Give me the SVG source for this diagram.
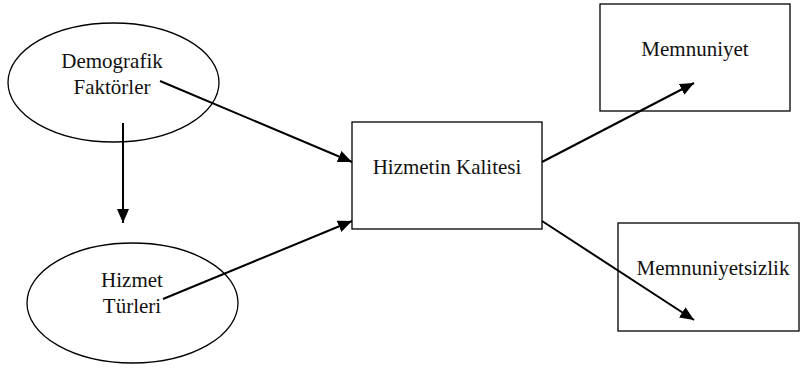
<svg xmlns="http://www.w3.org/2000/svg" width="800" height="369" viewBox="0 0 800 369">
<defs>
<style>
.n{fill:#fff;stroke:#000;stroke-width:1.3}
.t{font-family:"Liberation Serif","Times New Roman",serif;font-size:21px;fill:#111;text-anchor:middle}
.c{stroke:#000;stroke-width:2;fill:none;marker-end:url(#ah)}
</style>
<marker id="ah" markerUnits="userSpaceOnUse" markerWidth="14" markerHeight="12" viewBox="0 0 14 12" refX="14" refY="6" orient="auto">
<path d="M0,0 L14,6 L0,12 Z" fill="#000"/>
</marker>
</defs>
<rect width="800" height="369" fill="#fff"/>
<g id="demografik">
<ellipse class="n" cx="113.5" cy="82.5" rx="105.5" ry="59.5"/>
<text class="t" x="112" y="68">Demografik</text>
<text class="t" x="112" y="94">Faktörler</text>
</g>
<g id="hizmet-turleri">
<ellipse class="n" cx="132.5" cy="303" rx="105.5" ry="60"/>
<text class="t" x="132" y="287">Hizmet</text>
<text class="t" x="132" y="313">Türleri</text>
</g>
<g id="hizmetin-kalitesi">
<rect class="n" x="352" y="122" width="190" height="107"/>
<text class="t" x="447" y="174">Hizmetin Kalitesi</text>
</g>
<g id="memnuniyet">
<rect class="n" x="600" y="4" width="190" height="107"/>
<text class="t" x="695" y="56">Memnuniyet</text>
</g>
<g id="memnuniyetsizlik">
<rect class="n" x="618" y="223" width="181" height="108"/>
<text class="t" x="713" y="275">Memnuniyetsizlik</text>
</g>
<g id="connectors">
<line class="c" x1="123" y1="123" x2="123" y2="223"/>
<line class="c" x1="160" y1="81" x2="352" y2="162"/>
<line class="c" x1="163" y1="299" x2="352" y2="221"/>
<line class="c" x1="542" y1="162" x2="694" y2="83"/>
<line class="c" x1="542" y1="221" x2="694" y2="320"/>
</g>
</svg>
